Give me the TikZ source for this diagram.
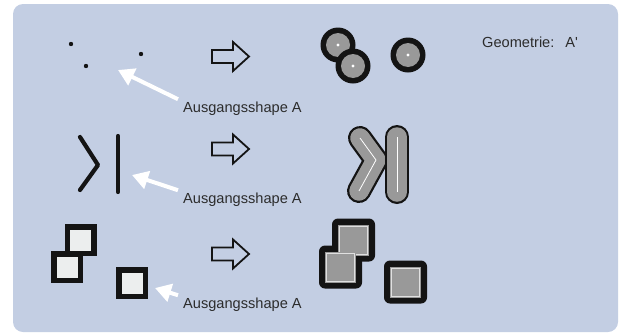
\documentclass[tikz,border=0pt]{standalone}
\usepackage{fontspec}
\setmainfont{Liberation Sans}
\usetikzlibrary{arrows.meta}
\definecolor{panel}{RGB}{195,206,227}
\definecolor{ink}{RGB}{20,20,20}
\definecolor{buffergrey}{RGB}{153,153,153}
\definecolor{squarefill}{RGB}{236,238,238}
\tikzset{
  captext/.style={anchor=base west, inner sep=0pt, text=ink!90, font=\fontsize{14.6}{17}\selectfont},
  pointer/.style={white, line width=4pt, -{Triangle[length=16pt, width=18pt]}},
  hollow/.style={draw=ink, line width=1.8pt, line join=miter},
  stroke/.style={ink, line width=4.2pt, line cap=round, line join=round},
  bufouter/.style={ink, line width=24pt, line cap=round, line join=round},
  bufinner/.style={buffergrey, line width=19.5pt, line cap=round, line join=round},
  bufaxis/.style={white, line width=0.8pt},
}
\begin{document}
\begin{tikzpicture}[x=1pt, y=-1pt]
  \useasboundingbox (0,0) rectangle (621,335);
  \fill[panel, rounded corners=10pt] (13,4) rectangle (618,332);

  % points and their circular buffers
  \foreach \x/\y in {71/44, 86/66, 141/54} \fill[ink] (\x,\y) circle (2.2);
  \foreach \x/\y in {338/45, 353/66, 408/55} {
    \fill[ink] (\x,\y) circle (17.5);
    \fill[buffergrey] (\x,\y) circle (12);
    \fill[white] (\x,\y) circle (1.6);
  }

  % lines and their buffers
  \draw[stroke] (80,137) -- (98,165) -- (80,190);
  \draw[stroke] (118,136) -- (118,192);
  \draw[bufouter] (360,138) -- (376,160) -- (359,191);
  \draw[bufinner] (360,138) -- (376,160) -- (359,191);
  \draw[bufaxis] (360,138) -- (376,160) -- (359,191);
  \draw[bufouter] (397,137) -- (397,192);
  \draw[bufinner] (397,137) -- (397,192);
  \draw[bufaxis] (397,137) -- (397,192);

  % squares and their buffers
  \foreach \x/\y in {80.5/240, 67/267, 132/283}
    \draw[ink, line width=5.5pt, fill=squarefill] (\x-13.25,\y-13.25) rectangle (\x+13.25,\y+13.25);
  \foreach \x/\y in {353.5/240, 340.5/267, 405.5/282}
    \fill[ink, rounded corners=6pt] (\x-21.5,\y-21.5) rectangle (\x+21.5,\y+21.5);
  \foreach \x/\y in {353.5/240, 340.5/267, 405.5/282} {
    \fill[buffergrey] (\x-15.5,\y-15.5) rectangle (\x+15.5,\y+15.5);
    \draw[white!70!buffergrey, line width=0.8pt] (\x-14,\y-14) rectangle (\x+14,\y+14);
  }

  % block arrows
  \foreach \y in {56.5, 149, 254}
    \draw[hollow] (212,\y-6.5) -- (233,\y-6.5) -- (233,\y-14.5) -- (249,\y)
      -- (233,\y+14.5) -- (233,\y+6.5) -- (212,\y+6.5) -- cycle;

  % captions
  \node[captext] (src1) at (183,112) {Ausgangsshape A};
  \node[captext] (src2) at (183,203) {Ausgangsshape A};
  \node[captext] (src3) at (183,308) {Ausgangsshape A};
  \node[captext] (geom) at (482,47) {Geometrie:\hspace{11pt}A\textquotesingle};

  \coordinate (tip1) at (118,70);
  \coordinate (tip2) at (132,175);
  \coordinate (tip3) at (155,288);
  \foreach \i in {1,2,3}
    \draw[pointer] ([xshift=-5pt, yshift=2pt]src\i.north west) -- (tip\i);
\end{tikzpicture}
\end{document}
